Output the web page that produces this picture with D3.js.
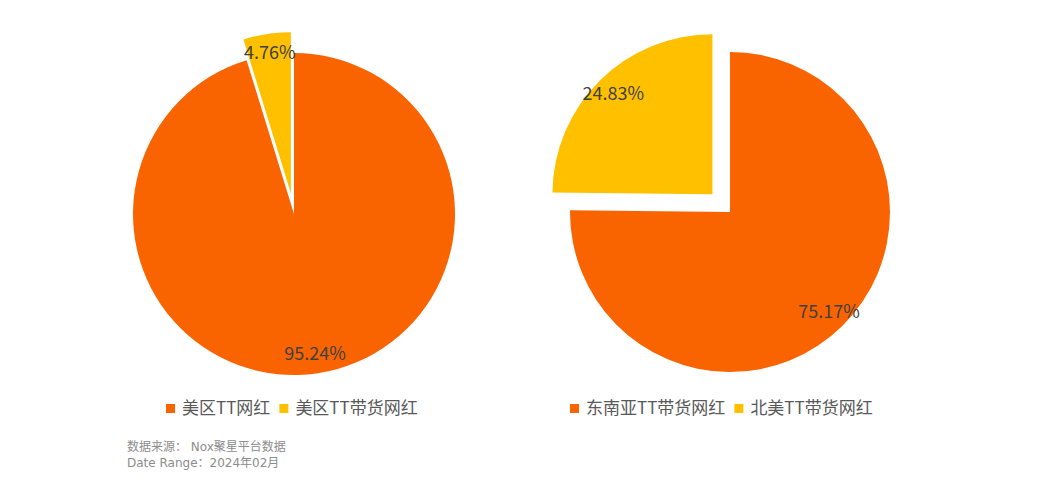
<!DOCTYPE html>
<html><head><meta charset="utf-8">
<script src="https://cdn.jsdelivr.net/npm/d3@7"></script>
<style>body{margin:0;background:#fff;font-family:"Noto Sans CJK SC","Noto Sans",sans-serif;}</style>
</head><body><svg id="c" width="1059" height="482"></svg>
<script>
const leftCategories = ["美区TT网红", "美区TT带货网红"];
const leftValues = [95.24, 4.76];
const rightCategories = ["东南亚TT带货网红", "北美TT带货网红"];
const rightValues = [75.17, 24.83];
const colors = ["#FA6400", "#FFC000"];
const sourceLines = ["数据来源：  Nox聚星平台数据", "Date Range：2024年02月"];

const svg = d3.select("#c");
const color = d3.scaleOrdinal().domain([0,1]).range(colors);

function drawPie(cats, vals, cx, cy, r, offset, legendX, legendY) {
  const pie = d3.pie().sort(null).value(d => d)(vals);
  const arc = d3.arc().innerRadius(0).outerRadius(r);
  const labelArc = d3.arc().innerRadius(r*0.88).outerRadius(r*0.88);
  const g = svg.append("g").attr("transform", `translate(${cx},${cy})`);
  pie.forEach((p, i) => {
    const mid = (p.startAngle + p.endAngle) / 2;
    const off = i === 1 ? offset : 0;
    const dx = Math.sin(mid) * off, dy = -Math.cos(mid) * off;
    const sg = g.append("g").attr("transform", `translate(${dx},${dy})`);
    sg.append("path").attr("d", arc(p)).attr("fill", color(i));
    const c = labelArc.centroid(p);
    sg.append("text").attr("x", c[0]).attr("y", c[1]).attr("dy", "0.35em")
      .attr("text-anchor", "middle").attr("font-size", 18).attr("fill", "#404040")
      .text(vals[i].toFixed(2) + "%");
  });
  const lg = svg.append("g").attr("transform", `translate(${legendX},${legendY})`);
  let x = 0;
  cats.forEach((c, i) => {
    lg.append("rect").attr("x", x).attr("y", -4).attr("width", 9).attr("height", 9).attr("fill", color(i));
    const t = lg.append("text").attr("x", x + 16).attr("y", 0).attr("dy", "0.35em")
      .attr("font-size", 17).attr("fill", "#595959").text(c);
    x += 16 + t.node().getComputedTextLength() + 9;
  });
}

drawPie(leftCategories, leftValues, 294, 214, 161, 21, 166, 408);
drawPie(rightCategories, rightValues, 730, 212, 160, 25, 570, 408);

svg.selectAll("text.src").data(sourceLines).enter().append("text").attr("class","src")
  .attr("x", 127).attr("y", (d,i) => 447 + i*16).attr("dy","0.35em")
  .attr("font-family", "'DejaVu Sans','Noto Sans CJK SC',sans-serif")
  .attr("font-size", 12).attr("fill", "#8c8c8c").text(d => d);
</script></body></html>
